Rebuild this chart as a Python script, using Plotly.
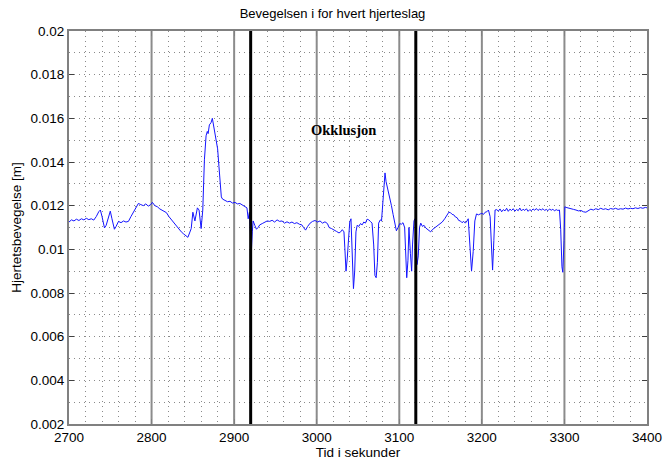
import plotly.graph_objects as go

# Time (s) and heart displacement (m) per heartbeat
t = [2700, 2703, 2706, 2709, 2712, 2715, 2718, 2721, 2724, 2727, 2730, 2733, 2736, 2738,
     2740, 2743, 2745, 2748, 2750, 2752, 2755, 2757, 2760, 2763, 2766, 2769, 2772, 2775,
     2778, 2781, 2784, 2787, 2790, 2793, 2796, 2799, 2801, 2804, 2807, 2810, 2812, 2815,
     2818, 2821, 2824, 2827, 2830, 2833, 2836, 2839, 2842, 2844, 2846, 2848, 2850, 2852.5,
     2855.5, 2857.5, 2860, 2862, 2864, 2866, 2867.5, 2868.5, 2870, 2872, 2873.6, 2875, 2876,
     2877.6, 2879, 2880, 2881.6, 2883, 2884.5, 2886, 2889, 2892, 2895, 2898, 2901, 2904,
     2907, 2910, 2913, 2915.5, 2917, 2918.5, 2920, 2921, 2922, 2923, 2925, 2927, 2929, 2931,
     2934, 2937, 2940, 2943, 2946, 2949, 2952, 2955, 2958, 2961, 2964, 2967, 2970, 2973,
     2976, 2979, 2982, 2984, 2986.5, 2989, 2992, 2995, 2998, 3001, 3004, 3007, 3010, 3013,
     3015, 3018, 3021, 3024, 3027, 3029, 3031, 3033, 3034, 3035.5, 3037, 3038.5, 3040,
     3041.5, 3043, 3044.5, 3046, 3047.5, 3049, 3051, 3053, 3055, 3057, 3059, 3061, 3063,
     3065, 3067, 3069, 3070.5, 3072, 3073.5, 3075, 3077, 3078.5, 3080, 3081.5, 3082.7, 3084,
     3086.5, 3088.5, 3090.5, 3092.5, 3094.5, 3096.5, 3098.5, 3100.5, 3102.5, 3104.5, 3106.5,
     3108, 3109, 3110.5, 3111.7, 3113.5, 3115, 3116, 3117.8, 3119, 3120.3, 3121.5, 3123,
     3124.5, 3126, 3128, 3130, 3132, 3134, 3136, 3138, 3140, 3143, 3146, 3149, 3152, 3155,
     3158, 3160, 3162, 3164, 3166, 3168, 3170, 3172, 3174, 3176, 3178, 3180, 3182, 3183.5,
     3185.5, 3187.5, 3189.5, 3191.5, 3193.5, 3196, 3198, 3200, 3202, 3204, 3206, 3208, 3210,
     3211.8, 3213, 3214.5, 3216, 3218, 3220, 3222, 3224, 3226, 3228, 3230, 3232, 3234, 3236,
     3238, 3240, 3242, 3244, 3246, 3248, 3250, 3252, 3254, 3256, 3258, 3260, 3262, 3264,
     3266, 3268, 3270, 3272, 3274, 3276, 3278, 3280, 3282, 3284, 3286, 3288, 3290, 3292,
     3294, 3295.5, 3297, 3298, 3299.5, 3300.5, 3302, 3305, 3308, 3311, 3314, 3317, 3320,
     3323, 3326, 3329, 3332, 3335, 3338, 3341, 3344, 3347, 3350, 3353, 3356, 3359, 3362,
     3365, 3368, 3371, 3374, 3377, 3380, 3383, 3386, 3389, 3392, 3395, 3398, 3400]

bevegelse = [0.01125, 0.01135, 0.01130, 0.01138, 0.01132, 0.01140, 0.01135, 0.01142, 0.01136,
             0.01140, 0.01134, 0.01150, 0.01172, 0.01180, 0.01150, 0.01098, 0.01110, 0.01150,
             0.01175, 0.01140, 0.01092, 0.01105, 0.01128, 0.01122, 0.01130, 0.01125, 0.01128,
             0.01150, 0.01168, 0.01190, 0.01210, 0.01205, 0.01200, 0.01208, 0.01198, 0.01205,
             0.01215, 0.01200, 0.01195, 0.01185, 0.01180, 0.01172, 0.01168, 0.01150, 0.01135,
             0.01120, 0.01105, 0.01090, 0.01080, 0.01070, 0.01062, 0.01055, 0.01075, 0.01095,
             0.01170, 0.01130, 0.01190, 0.01180, 0.01095, 0.01180, 0.01410, 0.01520, 0.01540,
             0.01530, 0.01570, 0.01580, 0.01600, 0.01570, 0.01530, 0.01500, 0.01480, 0.01460,
             0.01380, 0.01300, 0.01240, 0.01230, 0.01222, 0.01218, 0.01220, 0.01212, 0.01215,
             0.01208, 0.01210, 0.01202, 0.01198, 0.01190, 0.01140, 0.01170, 0.01050, 0.01000,
             0.01080, 0.01130, 0.01110, 0.01092, 0.01100, 0.01112, 0.01118, 0.01125, 0.01130,
             0.01128, 0.01133, 0.01125, 0.01135, 0.01128, 0.01130, 0.01120, 0.01126, 0.01120,
             0.01125, 0.01118, 0.01122, 0.01115, 0.01112, 0.01100, 0.01088, 0.01105, 0.01120,
             0.01128, 0.01132, 0.01125, 0.01130, 0.01120, 0.01126, 0.01118, 0.01100, 0.01095,
             0.01090, 0.01082, 0.01075, 0.01080, 0.01090, 0.01080, 0.01010, 0.00900, 0.00960,
             0.01050, 0.01125, 0.01140, 0.00970, 0.00820, 0.00900, 0.01080, 0.01110, 0.01105,
             0.01118, 0.01112, 0.01125, 0.01120, 0.01138, 0.01135, 0.01128, 0.01120, 0.01020,
             0.00880, 0.00870, 0.00940, 0.01120, 0.01135, 0.01130, 0.01230, 0.01330, 0.01350,
             0.01310, 0.01270, 0.01240, 0.01200, 0.01160, 0.01120, 0.01085, 0.01100, 0.01118,
             0.01115, 0.01122, 0.01100, 0.00960, 0.00870, 0.00950, 0.01100, 0.00980, 0.00900,
             0.01020, 0.01130, 0.01140, 0.01060, 0.00930, 0.00970, 0.01100, 0.01120, 0.01105,
             0.01110, 0.01098, 0.01092, 0.01085, 0.01080, 0.01090, 0.01098, 0.01108, 0.01115,
             0.01125, 0.01140, 0.01160, 0.01170, 0.01168, 0.01160, 0.01158, 0.01148, 0.01145,
             0.01132, 0.01130, 0.01122, 0.01128, 0.01120, 0.01130, 0.01140, 0.01020, 0.00900,
             0.00990, 0.01130, 0.01162, 0.01158, 0.01162, 0.01165, 0.01160, 0.01170, 0.01172,
             0.01180, 0.01150, 0.00970, 0.00905, 0.01040, 0.01180, 0.01182, 0.01175, 0.01185,
             0.01172, 0.01182, 0.01176, 0.01188, 0.01174, 0.01184, 0.01178, 0.01186, 0.01175,
             0.01183, 0.01177, 0.01189, 0.01176, 0.01184, 0.01178, 0.01186, 0.01174, 0.01182,
             0.01177, 0.01185, 0.01179, 0.01187, 0.01178, 0.01184, 0.01180, 0.01186, 0.01178,
             0.01183, 0.01177, 0.01185, 0.01179, 0.01184, 0.01176, 0.01182, 0.01178, 0.01180,
             0.01090, 0.00920, 0.00895, 0.01040, 0.01195, 0.01192, 0.01188, 0.01185, 0.01183,
             0.01180, 0.01176, 0.01178, 0.01172, 0.01170, 0.01178, 0.01184, 0.01180, 0.01186,
             0.01182, 0.01188, 0.01183, 0.01186, 0.01181, 0.01187, 0.01184, 0.01188, 0.01183,
             0.01186, 0.01184, 0.01189, 0.01185, 0.01188, 0.01186, 0.01190, 0.01187, 0.01191,
             0.01188, 0.01192, 0.01190]

# Axis ticks
x_ticks = [2700, 2800, 2900, 3000, 3100, 3200, 3300, 3400]
y_ticks = [0.002, 0.004, 0.006, 0.008, 0.010, 0.012, 0.014, 0.016, 0.018, 0.020]
y_ticklabels = ["0.002", "0.004", "0.006", "0.008", "0.01", "0.012", "0.014", "0.016",
                "0.018", "0.02"]

# Reference marks every 100 s, and start/end of the occlusion
markers = [2800, 2900, 3000, 3100, 3200, 3300]
occlusion = [2920, 3120]
occlusion_label = "Okklusjon"
label_pos = (3033, 0.01547)

fig = go.Figure()

for m in markers:
    fig.add_shape(type="line", x0=m, x1=m, y0=0, y1=1, xref="x", yref="paper",
                  line=dict(color="#8c8c8c", width=2), layer="below")
for m in occlusion:
    fig.add_shape(type="line", x0=m, x1=m, y0=0, y1=1, xref="x", yref="paper",
                  line=dict(color="black", width=3), layer="above")

fig.add_trace(go.Scatter(x=t, y=bevegelse, mode="lines",
                         line=dict(color="rgb(20,20,255)", width=1), showlegend=False))

fig.add_annotation(x=label_pos[0], y=label_pos[1], text="<b>" + occlusion_label + "</b>",
                   showarrow=False,
                   font=dict(family="Liberation Serif, Times New Roman, serif", size=14.5,
                             color="black"))

axis_font = dict(family="Liberation Sans, Arial, sans-serif", size=13.5, color="black")
grid_col = "#8a8a8a"
grid_dash = "1px,4px"

fig.update_layout(
    width=665, height=464,
    margin=dict(l=69, r=18, t=31, b=40),
    paper_bgcolor="white", plot_bgcolor="white",
    title=dict(text="Bevegelsen i for hvert hjerteslag", x=0.5, xanchor="center",
               y=1 - 13 / 464, yanchor="middle", yref="container",
               font=dict(family="Liberation Sans, Arial, sans-serif", size=13, color="black")),
    font=axis_font,
)

fig.update_xaxes(
    range=[2700, 3400], tickvals=x_ticks, ticktext=[str(v) for v in x_ticks],
    showgrid=True, gridcolor=grid_col, griddash=grid_dash, gridwidth=1,
    minor=dict(dtick=20, tick0=2700, showgrid=True, gridcolor=grid_col, griddash=grid_dash,
               gridwidth=1),
    showline=True, linecolor="#808080", linewidth=2, mirror="ticks",
    ticks="inside", ticklen=5, tickcolor="#808080",
    zeroline=False, tickfont=axis_font, automargin=False,
    title=dict(text="Tid i sekunder", font=axis_font, standoff=2),
)

fig.update_yaxes(
    range=[0.002, 0.02], tickvals=y_ticks, ticktext=y_ticklabels,
    showgrid=True, gridcolor=grid_col, griddash=grid_dash, gridwidth=1,
    minor=dict(dtick=0.001, tick0=0.002, showgrid=True, gridcolor=grid_col,
               griddash=grid_dash, gridwidth=1),
    showline=True, linecolor="#808080", linewidth=2, mirror="ticks",
    ticks="inside", ticklen=5, tickcolor="#404040",
    zeroline=False, tickfont=axis_font, automargin=False,
    title=dict(text="Hjertetsbevegelse [m]", font=axis_font, standoff=6),
)

fig.write_html("out.html")
